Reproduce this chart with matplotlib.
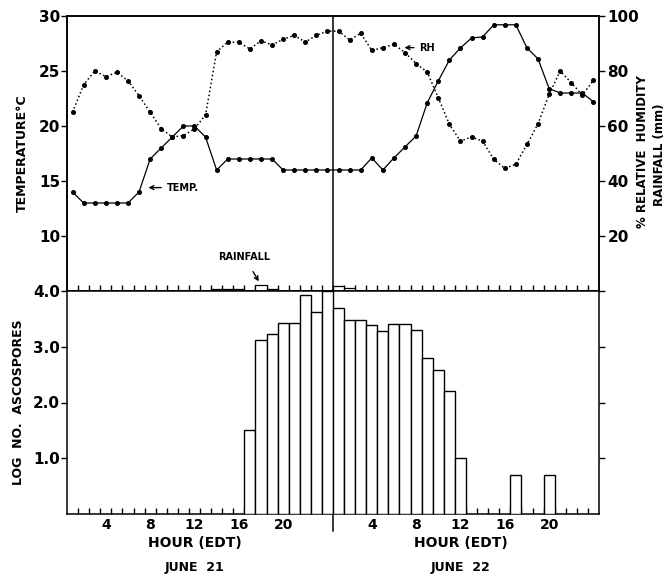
import numpy as np
import matplotlib
matplotlib.use("Agg")
import matplotlib.pyplot as plt

# ---------------- data ----------------
# hourly values, June 21 (hours 1-24) then June 22 (hours 1-24)
temp_c = [14, 13, 13, 13, 13, 13, 14, 17, 18, 19, 20, 20,
          19, 16, 17, 17, 17, 17, 17, 16, 16, 16, 16, 16,
          16, 16, 16, 17.1, 16, 17.1, 18.1, 19.1, 22.1, 24.1, 26, 27.1,
          28, 28.1, 29.2, 29.2, 29.2, 27.1, 26.1, 23.4, 23, 23, 23, 22.2]
rel_hum = [65, 75, 80, 78, 79.5, 76.5, 71, 65, 59, 56, 56.5, 59,
           64, 87, 90.5, 90.5, 88, 91, 89.5, 91.5, 93, 90.5, 93, 94.5,
           94.5, 91.3, 93.7, 87.5, 88.5, 89.7, 86.7, 82.7, 79.6, 70.3, 60.6, 54.5,
           56, 54.5, 47.9, 44.6, 46.1, 53.3, 60.8, 71.5, 80, 75.7, 71.3, 76.6]
rain_mm = [0, 0, 0, 0, 0, 0, 0, 0, 0, 0, 0, 0,
           0, 0.8, 0.8, 0.8, 0, 2.3, 0.8, 0, 0, 0, 0, 0,
           2.0, 1.0, 0, 0, 0, 0, 0, 0, 0, 0, 0, 0,
           0, 0, 0, 0, 0, 0, 0, 0, 0, 0, 0, 0]
log_spores = [0, 0, 0, 0, 0, 0, 0, 0, 0, 0, 0, 0,
              0, 0, 0, 0, 1.5, 3.12, 3.23, 3.43, 3.43, 3.92, 3.62, 4.0,
              3.7, 3.48, 3.48, 3.39, 3.29, 3.4, 3.4, 3.3, 2.8, 2.59, 2.2, 1.0,
              0, 0, 0, 0, 0.7, 0, 0, 0.7, 0, 0, 0, 0]
hour_labels = ["4", "8", "12", "16", "20"]
hour_label_vals = [4, 8, 12, 16, 20]
temp_ticks = [10, 15, 20, 25, 30]
rh_ticks = [20, 40, 60, 80, 100]
spore_ticks = [1.0, 2.0, 3.0, 4.0]
day_names = ["JUNE  21", "JUNE  22"]

# ---------------- figure ----------------
plt.rcParams['font.family'] = ['DejaVu Sans']
plt.rcParams['font.weight'] = 'bold'
fig = plt.figure(figsize=(6.7, 5.75), dpi=100)

L, R = 67 / 670, 599 / 670
top_y0, top_y1 = 1 - 291 / 575, 1 - 16 / 575
bot_y0 = 1 - 514 / 575

ax1 = fig.add_axes([L, top_y0, R - L, top_y1 - top_y0])
ax1r = ax1.twinx()
ax2 = fig.add_axes([L, bot_y0, R - L, top_y0 - bot_y0])

n = len(temp_c)
centers = np.arange(n) + 0.5
edges = np.arange(n)

for a in (ax1, ax1r, ax2):
    for s in a.spines.values():
        s.set_linewidth(1.1)

# temperature (solid)
ax1.plot(centers, temp_c, '-', color='black', lw=0.9, marker='o', ms=2.6, zorder=3)
ax1.set_xlim(0, 48)
ax1.set_ylim(5, 30)
ax1.set_yticks(temp_ticks)
ax1.set_yticklabels([str(v) for v in temp_ticks], fontsize=11, fontweight='bold')
ax1.set_xticks(np.arange(1, 48))
ax1.tick_params(axis='x', direction='in', length=4, width=1, labelbottom=False)
ax1.tick_params(axis='y', direction='out', length=4, width=1, pad=1)
ax1.set_ylabel("TEMPERATURE\u00b0C", fontsize=9, fontweight='bold', labelpad=7)
ax1.axvline(24, color='black', lw=1.1)

# RH (dotted) and rainfall on right axis
ax1r.plot(centers, rel_hum, ':', color='black', lw=1.1, marker='o', ms=2.6, zorder=3)
rain_idx = [i for i, v in enumerate(rain_mm) if v > 0]
ax1r.bar([edges[i] for i in rain_idx], [rain_mm[i] for i in rain_idx], width=1,
         align='edge', facecolor='white', edgecolor='black', lw=0.9, zorder=2)
ax1r.set_ylim(0, 100)
ax1r.set_yticks(rh_ticks)
ax1r.set_yticklabels([str(v) for v in rh_ticks], fontsize=11, fontweight='bold')
ax1r.tick_params(axis='y', direction='out', length=4, width=1, pad=2)
fig.text(642 / 670, 1 - 152 / 575, "% RELATIVE  HUMIDITY", rotation=90,
         ha='center', va='center', fontsize=8.5, fontweight='bold')
fig.text(659 / 670, 1 - 155 / 575, "RAINFALL (mm)", rotation=90,
         ha='center', va='center', fontsize=8.5, fontweight='bold')

# annotations
ax1.annotate("TEMP.", xy=(7.1, 14.4), xytext=(9.0, 14.4), fontsize=7,
             fontweight='bold', va='center', ha='left',
             arrowprops=dict(arrowstyle='->', color='black', lw=1))
ax1r.annotate("RH", xy=(30.2, 88.5), xytext=(31.8, 88.5), fontsize=7,
              fontweight='bold', va='center', ha='left',
              arrowprops=dict(arrowstyle='->', color='black', lw=1))
ax1r.annotate("RAINFALL", xy=(17.3, 3.5), xytext=(16.0, 12.5), fontsize=7,
              fontweight='bold', va='center', ha='center',
              arrowprops=dict(arrowstyle='->', color='black', lw=1,
                              shrinkA=6, shrinkB=0))

# spores bars
sp_idx = [i for i, v in enumerate(log_spores) if v > 0]
ax2.bar([edges[i] for i in sp_idx], [log_spores[i] for i in sp_idx], width=1,
        align='edge', facecolor='white', edgecolor='black', lw=1.0, zorder=3)
ax2.set_xlim(0, 48)
ax2.set_ylim(0, 4.0)
ax2.set_yticks(spore_ticks)
ax2.set_yticklabels([f"{v:.1f}" for v in spore_ticks], fontsize=11, fontweight='bold')
ax2.tick_params(axis='y', direction='out', length=4, width=1, pad=1,
                right=True, labelright=False)
ax2.set_xticks(np.arange(1, 48))
ax2.tick_params(axis='x', which='major', direction='in', length=4, width=1,
                labelbottom=False)
minor_pos = [h - 0.5 for h in hour_label_vals] + [24 + h - 0.5 for h in hour_label_vals]
ax2.set_xticks(minor_pos, minor=True)
ax2.set_xticklabels(hour_labels + hour_labels, minor=True, fontsize=10, fontweight='bold')
ax2.tick_params(axis='x', which='minor', length=0, pad=3)
ax2.set_ylabel("LOG  NO.  ASCOSPORES", fontsize=9, fontweight='bold', labelpad=6)
ax2.axvline(24, ymin=-0.075, ymax=1, color='black', lw=1.1, clip_on=False)

# bottom texts
for i, name in enumerate(day_names):
    xc = 12 + 24 * i - 0.5
    ax2.text(xc, -0.13, "HOUR (EDT)", transform=ax2.get_xaxis_transform(),
             ha='center', va='center', fontsize=10, fontweight='bold')
    ax2.text(xc, -0.24, name, transform=ax2.get_xaxis_transform(),
             ha='center', va='center', fontsize=9, fontweight='bold')

fig.savefig("out.png", dpi=100)
